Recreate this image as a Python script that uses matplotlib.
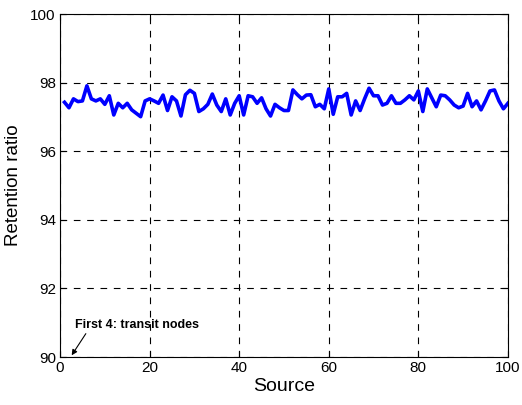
import numpy as np
import matplotlib.pyplot as plt

plt.rcParams['font.family'] = ['Liberation Sans', 'DejaVu Sans']

source = np.arange(1, 101)
retention = [97.43, 97.27, 97.53, 97.45, 97.47, 97.91, 97.53, 97.47, 97.53, 97.37,
             97.62, 97.06, 97.40, 97.27, 97.40, 97.21, 97.11, 97.01, 97.47, 97.53,
             97.47, 97.40, 97.64, 97.19, 97.59, 97.47, 97.03, 97.65, 97.78, 97.69,
             97.16, 97.24, 97.37, 97.67, 97.35, 97.16, 97.53, 97.06, 97.40, 97.62,
             97.06, 97.62, 97.59, 97.40, 97.56, 97.24, 97.03, 97.37, 97.27, 97.19,
             97.19, 97.79, 97.65, 97.53, 97.64, 97.65, 97.30, 97.37, 97.24, 97.82,
             97.08, 97.59, 97.59, 97.69, 97.06, 97.47, 97.19, 97.53, 97.84, 97.62,
             97.62, 97.35, 97.40, 97.62, 97.40, 97.40, 97.50, 97.62, 97.50, 97.76,
             97.16, 97.82, 97.56, 97.30, 97.64, 97.62, 97.50, 97.35, 97.27, 97.32,
             97.69, 97.30, 97.47, 97.21, 97.47, 97.76, 97.79, 97.47, 97.24, 97.40]

fig = plt.figure(figsize=(5.22, 4.05), dpi=100)
ax = fig.add_axes([0.115, 0.1185, 0.858, 0.8465])
ax.plot(source, retention, color='#0000ff', linewidth=2.6)
ax.set_xlim(0, 100)
ax.set_ylim(90, 100)
ax.set_xticks(np.arange(0, 101, 20))
ax.set_yticks(np.arange(90, 101, 2))
ax.grid(True, color='black', linestyle=(0, (6, 6)), linewidth=0.8)
ax.tick_params(direction='in', top=True, right=True, labelsize=11, length=4, pad=3)
ax.set_xlabel('Source', fontsize=14, labelpad=2)
ax.set_ylabel('Retention ratio', fontsize=13.5, labelpad=6)
ax.annotate('First 4: transit nodes', xy=(2.6, 90.05), xytext=(3.4, 90.85),
            fontsize=9, fontweight='bold',
            arrowprops=dict(arrowstyle='-|>', color='black', lw=0.8,
                            shrinkA=0, shrinkB=0, mutation_scale=8,
                            relpos=(0.1, 0)))
fig.savefig('out.png', dpi=100)
